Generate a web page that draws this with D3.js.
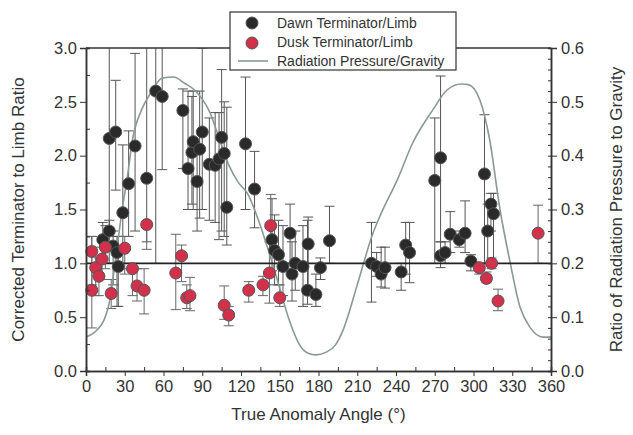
<!DOCTYPE html>
<html>
<head>
<meta charset="utf-8">
<script src="https://cdn.jsdelivr.net/npm/d3@7"></script>
<style>
	body { margin: 0; background: #fff; }
	text { font-family: 'Liberation Sans', Arial, sans-serif; fill: #333; }
	.axis path, .axis line { stroke: #333; }
	.axis text { font-size: 16px; fill: #333; }
</style>
</head>
<body>
<script>
// dawn terminator/limb points: angle, ratio, error bar low/high
const dawnAngle = [13, 18, 18, 21, 23, 24, 25, 28.5, 33, 38, 47, 54, 59, 75, 79, 82, 83, 86, 88, 90, 95.5, 100, 103, 105, 107, 109, 123.5, 130.5, 144, 146, 149, 152.5, 158, 159.5, 162, 168, 171.5, 172, 178, 181.5, 188.5, 221, 225, 228.5, 231.5, 244, 247.5, 250.5, 270, 274.5, 274.5, 278, 282, 289, 293.5, 298, 308.5, 311, 313.5, 315.5];
const dawnRatio = [1.22, 1.30, 2.16, 1.16, 2.22, 1.10, 0.97, 1.47, 1.74, 2.09, 1.79, 2.60, 2.55, 2.42, 1.88, 2.03, 2.13, 1.76, 2.06, 2.22, 1.92, 1.91, 1.97, 2.17, 2.02, 1.52, 2.11, 1.69, 1.22, 1.12, 1.08, 0.97, 1.28, 0.90, 1.00, 0.97, 0.75, 1.18, 0.71, 0.96, 1.21, 1.00, 0.97, 0.90, 0.96, 0.92, 1.17, 1.10, 1.77, 1.07, 1.98, 1.10, 1.27, 1.22, 1.28, 1.02, 1.83, 1.30, 1.55, 1.46];
const dawnLo = [1.00, 1.00, 1.28, 0.80, 1.68, 0.60, 0.60, 0.95, 1.25, 1.30, 1.20, 1.00, 1.87, 1.88, 1.50, 1.55, 1.50, 1.30, 1.42, 1.50, 1.40, 1.38, 1.22, 1.30, 1.25, 1.17, 1.50, 1.33, 0.93, 0.80, 0.80, 0.70, 1.00, 0.65, 0.75, 0.60, 0.62, 0.75, 0.60, 0.85, 1.00, 0.64, 0.88, 0.78, 0.77, 0.75, 0.90, 0.82, 1.00, 0.96, 1.20, 1.00, 1.10, 1.15, 1.10, 0.93, 1.00, 1.00, 1.30, 1.00];
const dawnHi = [1.38, 1.40, 3.20, 1.30, 2.70, 1.25, 1.25, 2.10, 2.23, 2.95, 3.20, 3.20, 3.20, 2.62, 2.60, 2.55, 2.60, 2.10, 2.60, 3.00, 2.35, 2.40, 2.40, 2.80, 2.50, 2.45, 2.73, 2.04, 1.60, 1.45, 1.40, 1.35, 1.55, 1.20, 1.30, 1.35, 1.40, 1.43, 0.90, 1.05, 1.53, 1.38, 1.10, 1.15, 1.15, 1.00, 1.38, 1.38, 2.35, 1.20, 2.74, 1.20, 1.48, 1.30, 1.58, 1.08, 2.38, 1.55, 1.65, 1.65];

// dusk terminator/limb points
const duskAngle = [4.5, 4.5, 7.5, 10, 12.5, 15, 19.5, 30, 36, 39.5, 45, 47, 69.5, 74, 78, 80.5, 107, 110.5, 126, 137, 142, 143, 150, 304.5, 310, 314, 319, 350];
const duskRatio = [0.75, 1.11, 0.96, 0.88, 1.04, 1.15, 0.72, 1.14, 0.95, 0.79, 0.75, 1.36, 0.91, 1.07, 0.68, 0.70, 0.61, 0.52, 0.75, 0.80, 0.91, 1.35, 0.68, 0.96, 0.86, 1.00, 0.65, 1.28];
const duskLo = [0.40, 0.80, 0.70, 0.70, 0.85, 0.95, 0.58, 0.90, 0.70, 0.65, 0.53, 1.13, 0.57, 0.83, 0.58, 0.56, 0.48, 0.42, 0.64, 0.70, 0.63, 1.20, 0.60, 0.90, 0.82, 0.95, 0.56, 1.00];
const duskHi = [1.25, 1.25, 1.15, 1.05, 1.20, 1.35, 0.85, 1.25, 1.00, 0.95, 0.95, 1.38, 1.27, 1.17, 0.80, 0.87, 0.79, 0.60, 0.83, 0.88, 1.20, 1.64, 0.80, 1.00, 0.92, 1.05, 0.76, 1.54];

// radiation pressure / gravity (right axis)
const curveAngle = [0, 8.5, 14, 18, 23, 28, 32, 36, 43, 50, 59, 68, 76, 84, 90, 96, 102, 111, 118, 125, 135, 148, 158, 165, 172, 178, 186, 193, 199, 210, 222, 228, 241, 253, 268.5, 279.5, 290.5, 296, 305, 312.5, 320.5, 328, 336, 343.5, 354, 360];
const curveRatio = [0.063, 0.076, 0.095, 0.126, 0.21, 0.30, 0.36, 0.43, 0.485, 0.516, 0.544, 0.546, 0.535, 0.522, 0.505, 0.48, 0.44, 0.38, 0.35, 0.33, 0.27, 0.17, 0.09, 0.05, 0.033, 0.03, 0.035, 0.048, 0.076, 0.16, 0.255, 0.29, 0.355, 0.424, 0.485, 0.522, 0.533, 0.532, 0.503, 0.43, 0.30, 0.206, 0.119, 0.082, 0.063, 0.063];

const xTicks = [0, 30, 60, 90, 120, 150, 180, 210, 240, 270, 300, 330, 360];
const yTicks = [0, 0.5, 1.0, 1.5, 2.0, 2.5, 3.0];
const y2Ticks = [0, 0.1, 0.2, 0.3, 0.4, 0.5, 0.6];

const w = 633;
const h = 435;
const margin = { top: 48, bottom: 64, left: 86, right: 82 };

const x = d3.scaleLinear().domain([0, 360]).range([margin.left, w - margin.right]);
const y = d3.scaleLinear().domain([0, 3]).range([h - margin.bottom, margin.top]);
const y2 = d3.scaleLinear().domain([0, 0.6]).range([h - margin.bottom, margin.top]);

const svg = d3.select('body').append('svg').attr('width', w).attr('height', h);

svg.append('clipPath').attr('id', 'plot')
	.append('rect')
	.attr('x', x(0)).attr('y', y(3))
	.attr('width', x(360) - x(0)).attr('height', y(0) - y(3));

const dawn = dawnAngle.map((a, i) => ({ a: a, v: dawnRatio[i], lo: dawnLo[i], hi: dawnHi[i] }));
const dusk = duskAngle.map((a, i) => ({ a: a, v: duskRatio[i], lo: duskLo[i], hi: duskHi[i] }));

// error bars
const bars = svg.append('g').attr('clip-path', 'url(#plot)');
function errorBars(data, colour) {
	const g = bars.selectAll(null).data(data).enter().append('g')
		.attr('stroke', colour).attr('stroke-width', 1);
	g.append('line')
		.attr('x1', d => x(d.a)).attr('x2', d => x(d.a))
		.attr('y1', d => y(d.lo)).attr('y2', d => y(d.hi));
	g.append('line')
		.attr('x1', d => x(d.a) - 5).attr('x2', d => x(d.a) + 5)
		.attr('y1', d => y(d.lo)).attr('y2', d => y(d.lo));
	g.append('line')
		.attr('x1', d => x(d.a) - 5).attr('x2', d => x(d.a) + 5)
		.attr('y1', d => y(d.hi)).attr('y2', d => y(d.hi));
}
errorBars(dawn, '#555');
errorBars(dusk, '#666');

// radiation pressure curve
const line = d3.line()
	.x((d, i) => x(curveAngle[i]))
	.y(d => y2(d))
	.curve(d3.curveMonotoneX);
svg.append('path')
	.datum(curveRatio)
	.attr('fill', 'none')
	.attr('stroke', '#889a93')
	.attr('stroke-width', 1.6)
	.attr('d', line);

// reference line at ratio 1
svg.append('line')
	.attr('x1', x(0)).attr('x2', x(360))
	.attr('y1', y(1)).attr('y2', y(1))
	.attr('stroke', '#222').attr('stroke-width', 1.6);

// points
svg.append('g').selectAll('circle').data(dawn).enter().append('circle')
	.attr('cx', d => x(d.a)).attr('cy', d => y(d.v)).attr('r', 6)
	.attr('fill', '#2a2a2a').attr('stroke', '#555').attr('stroke-width', 1);
svg.append('g').selectAll('circle').data(dusk).enter().append('circle')
	.attr('cx', d => x(d.a)).attr('cy', d => y(d.v)).attr('r', 6)
	.attr('fill', '#d3304c').attr('stroke', '#555').attr('stroke-width', 1);

// frame and axes
svg.append('line')
	.attr('x1', x(0)).attr('x2', x(360)).attr('y1', y(3)).attr('y2', y(3))
	.attr('stroke', '#333').attr('stroke-width', 1.5);

const xAxis = svg.append('g').attr('class', 'axis')
	.attr('transform', 'translate(0,' + y(0) + ')')
	.call(d3.axisBottom(x).tickValues(xTicks).tickSize(5).tickPadding(4).tickFormat(d3.format('d')));
svg.append('g').attr('class', 'axis')
	.attr('transform', 'translate(0,' + y(0) + ')')
	.call(d3.axisTop(x).tickValues(d3.range(15, 360, 30)).tickSize(4).tickFormat(''));

svg.append('g').attr('class', 'axis')
	.attr('transform', 'translate(' + x(0) + ',0)')
	.call(d3.axisLeft(y).tickValues(yTicks).tickSize(6).tickPadding(3).tickFormat(d3.format('.1f')));
svg.append('g').attr('class', 'axis')
	.attr('transform', 'translate(' + x(0) + ',0)')
	.call(d3.axisRight(y).tickValues(d3.range(0.25, 3, 0.5)).tickSize(4).tickFormat(''));

svg.append('g').attr('class', 'axis')
	.attr('transform', 'translate(' + x(360) + ',0)')
	.call(d3.axisRight(y2).tickValues(y2Ticks).tickSize(6).tickPadding(4).tickFormat(d3.format('.1f')));
svg.append('g').attr('class', 'axis')
	.attr('transform', 'translate(' + x(360) + ',0)')
	.call(d3.axisLeft(y2).tickValues(d3.range(0.02, 0.6, 0.02)).tickSize(3).tickFormat(''));

svg.selectAll('.axis path').attr('stroke-width', 1.5);
svg.selectAll('.axis text').style('font-size', '16.5px');

// axis titles
svg.append('text')
	.attr('transform', 'translate(24,' + (y(1.5)) + ') rotate(-90)')
	.attr('text-anchor', 'middle')
	.style('font-size', '17px')
	.text('Corrected Terminator to Limb Ratio');
svg.append('text')
	.attr('transform', 'translate(622,' + (y(1.5)) + ') rotate(-90)')
	.attr('text-anchor', 'middle')
	.style('font-size', '17px')
	.text('Ratio of Radiation Pressure to Gravity');
svg.append('text')
	.attr('x', x(180)).attr('y', 420)
	.attr('text-anchor', 'middle')
	.style('font-size', '17px')
	.text('True Anomaly Angle (°)');

// legend
const legend = svg.append('g').attr('transform', 'translate(230,12)');
legend.append('rect')
	.attr('width', 226).attr('height', 58)
	.attr('fill', '#fff').attr('stroke', '#333').attr('stroke-width', 1.2);
legend.append('circle').attr('cx', 22).attr('cy', 11).attr('r', 6)
	.attr('fill', '#2a2a2a').attr('stroke', '#555');
legend.append('circle').attr('cx', 22).attr('cy', 31).attr('r', 6)
	.attr('fill', '#d3304c').attr('stroke', '#555');
legend.append('line').attr('x1', 8).attr('x2', 38).attr('y1', 49).attr('y2', 49)
	.attr('stroke', '#889a93').attr('stroke-width', 1.6);
const labels = ['Dawn Terminator/Limb', 'Dusk Terminator/Limb', 'Radiation Pressure/Gravity'];
legend.selectAll('.leg').data(labels).enter().append('text')
	.attr('x', 47)
	.attr('y', (d, i) => 16 + i * 19)
	.style('font-size', '14px')
	.text(d => d);
</script>
</body>
</html>
